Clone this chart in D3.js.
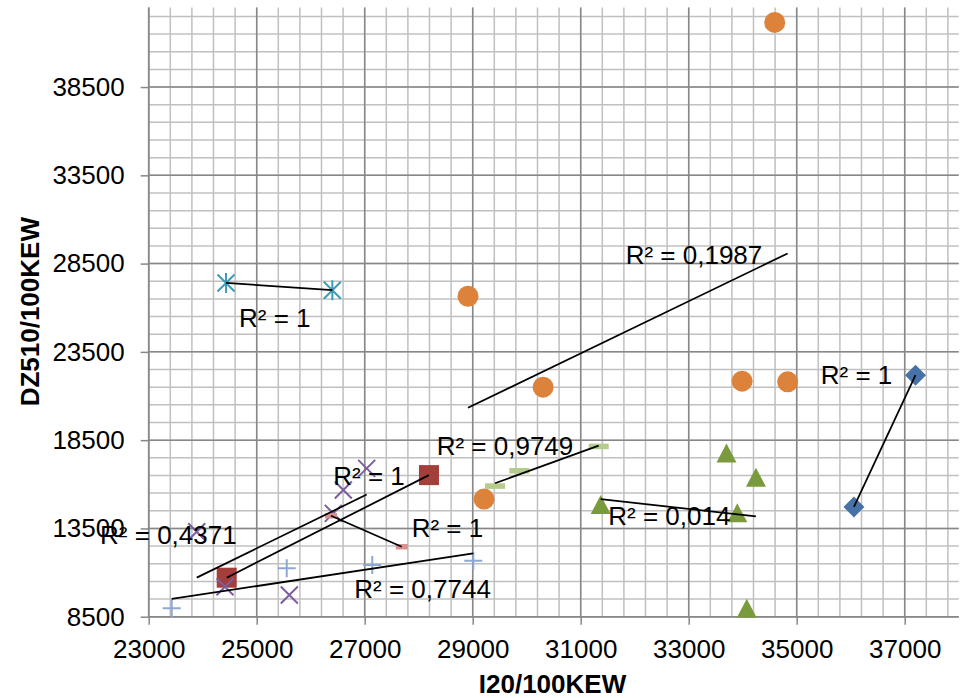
<!DOCTYPE html>
<html>
<head>
<meta charset="utf-8">
<script src="https://cdn.jsdelivr.net/npm/d3@7"></script>
<style>
  html, body { margin: 0; padding: 0; background: #fff; }
  svg { display: block; }
  text { font-family: "Liberation Sans", Arial, sans-serif; }
</style>
</head>
<body>
<div id="chart"></div>
<script>
// ---------------- data ----------------
const diamondX = [36060, 37200];
const diamondY = [14720, 22180];
const squareX = [24445, 28190];
const squareY = [10710, 16520];
const triangleX = [31370, 33700, 34245, 33900, 34075];
const triangleY = [14822, 17749, 16368, 14353, 8950];
const crossX = [23889, 24413, 25604, 26418, 26604, 27037];
const crossY = [13311, 10198, 9728, 14353, 15672, 16900];
const starX = [24432, 26401];
const starY = [27405, 26992];
const circleX = [28913, 29210, 30304, 33989, 34832, 34593];
const circleY = [26652, 15162, 21501, 21841, 21801, 42162];
const plusX = [23426, 25556, 27140, 29011];
const plusY = [8975, 11240, 11426, 11670];
const shortDashX = [26376, 27686];
const shortDashY = [14217, 12462];
const longDashX = [29413, 29863, 31333];
const longDashY = [15898, 16765, 18145];

const r2Labels = ["R² = 1", "R² = 1", "R² = 0,014", "R² = 0,4371", "R² = 1",
                  "R² = 0,1987", "R² = 0,7744", "R² = 1", "R² = 0,9749"];

const xTicks = [23000, 25000, 27000, 29000, 31000, 33000, 35000, 37000];
const yTicks = [8500, 13500, 18500, 23500, 28500, 33500, 38500];
const xTitle = "I20/100KEW";
const yTitle = "DZ510/100KEW";

// ---------------- layout ----------------
const W = 961, H = 698;
const pLeft = 148.7, pTop = 7.6, pRight = 958.7, pBottom = 616.7;
const xDomain = [23000, 38000], yDomain = [8500, 43000];
const xMinor = 400, yMinor = 1000;

// label anchors (data coords of text left baseline)
const labelAt = [[35445, 21654], [26418, 15955], [31510, 13690], [22100, 12598], [24672, 24915],
                 [31833, 28503], [26807, 9541], [27870, 12994], [28333, 17638]];

const series = [
  { xs: diamondX,   ys: diamondY,   marker: "diamond",   color: "#4672a8" },
  { xs: squareX,    ys: squareY,    marker: "square",    color: "#a33e3b" },
  { xs: triangleX,  ys: triangleY,  marker: "triangle",  color: "#7a9a3e" },
  { xs: crossX,     ys: crossY,     marker: "x",         color: "#7b5e9e" },
  { xs: starX,      ys: starY,      marker: "star",      color: "#3e9bb5" },
  { xs: circleX,    ys: circleY,    marker: "circle",    color: "#dc823b" },
  { xs: plusX,      ys: plusY,      marker: "plus",      color: "#8ea8d6" },
  { xs: shortDashX, ys: shortDashY, marker: "shortdash", color: "#d9908f" },
  { xs: longDashX,  ys: longDashY,  marker: "longdash",  color: "#b5cc8e" }
];

const x = d3.scaleLinear().domain(xDomain).range([pLeft, pRight]);
const y = d3.scaleLinear().domain(yDomain).range([pBottom, pTop]);

const svg = d3.select("#chart").append("svg").attr("width", W).attr("height", H);

// ---------------- grid ----------------
const minorXs = d3.range(xDomain[0], xDomain[1] + 1, xMinor).filter(v => v <= xDomain[1]);
const minorYs = d3.range(yDomain[0], yDomain[1] + 1, yMinor).filter(v => v <= yDomain[1]);
const grid = svg.append("g");
grid.selectAll(".mx").data(minorXs).join("line")
  .attr("x1", d => x(d)).attr("x2", d => x(d)).attr("y1", y(yDomain[1])).attr("y2", pBottom)
  .attr("stroke", "#c0c0c0").attr("stroke-width", 1.5);
grid.selectAll(".my").data(minorYs).join("line")
  .attr("x1", pLeft).attr("x2", pRight).attr("y1", d => y(d)).attr("y2", d => y(d))
  .attr("stroke", "#c0c0c0").attr("stroke-width", 1.5);
grid.selectAll(".Mx").data(xTicks).join("line")
  .attr("x1", d => x(d)).attr("x2", d => x(d)).attr("y1", y(yDomain[1])).attr("y2", pBottom)
  .attr("stroke", "#878787").attr("stroke-width", 1.5);
grid.selectAll(".My").data(yTicks).join("line")
  .attr("x1", pLeft).attr("x2", pRight).attr("y1", d => y(d)).attr("y2", d => y(d))
  .attr("stroke", "#878787").attr("stroke-width", 1.5);

// ---------------- axes ----------------
const fmt = d3.format("d");
const xAxis = svg.append("g").attr("transform", `translate(0,${pBottom})`)
  .call(d3.axisBottom(x).tickValues(xTicks).tickFormat(fmt).tickSize(8).tickPadding(15));
const yAxis = svg.append("g").attr("transform", `translate(${pLeft},0)`)
  .call(d3.axisLeft(y).tickValues(yTicks).tickFormat(fmt).tickSize(8).tickPadding(16));
[xAxis, yAxis].forEach(a => {
  a.select(".domain").remove();
  a.selectAll(".tick line").attr("stroke", "#878787").attr("stroke-width", 1.5);
  a.selectAll(".tick text").attr("font-size", 26).attr("fill", "#000")
    .attr("font-family", "'Liberation Sans', Arial, sans-serif");
});
svg.append("line").attr("x1", pLeft).attr("x2", pLeft).attr("y1", y(yDomain[1])).attr("y2", pBottom)
  .attr("stroke", "#878787").attr("stroke-width", 1.5);
svg.append("line").attr("x1", pLeft).attr("x2", pRight).attr("y1", pBottom).attr("y2", pBottom)
  .attr("stroke", "#878787").attr("stroke-width", 1.5);

svg.append("text").attr("x", 552.5).attr("y", 693).attr("text-anchor", "middle")
  .attr("font-size", 26).attr("font-weight", "bold").text(xTitle);
svg.append("text").attr("transform", "translate(39,311.7) rotate(-90)").attr("text-anchor", "middle")
  .attr("font-size", 26).attr("font-weight", "bold").text(yTitle);

// ---------------- markers ----------------
function drawMarker(g, type, cx, cy, color) {
  switch (type) {
    case "diamond":
      g.append("path").attr("d", `M${cx},${cy-10.5}L${cx+10.5},${cy}L${cx},${cy+10.5}L${cx-10.5},${cy}Z`).attr("fill", color);
      break;
    case "square":
      g.append("rect").attr("x", cx-10).attr("y", cy-10).attr("width", 20).attr("height", 20).attr("fill", color);
      break;
    case "triangle":
      g.append("path").attr("d", `M${cx},${cy-10}L${cx+10},${cy+9}L${cx-10},${cy+9}Z`).attr("fill", color);
      break;
    case "circle":
      g.append("circle").attr("cx", cx).attr("cy", cy).attr("r", 10.5).attr("fill", color);
      break;
    case "x":
      g.append("path").attr("d", `M${cx-8.5},${cy-8.5}L${cx+8.5},${cy+8.5}M${cx+8.5},${cy-8.5}L${cx-8.5},${cy+8.5}`)
        .attr("stroke", color).attr("stroke-width", 2).attr("fill", "none");
      break;
    case "star":
      g.append("path").attr("d", `M${cx-8.5},${cy-8.5}L${cx+8.5},${cy+8.5}M${cx+8.5},${cy-8.5}L${cx-8.5},${cy+8.5}M${cx},${cy-10}L${cx},${cy+10}`)
        .attr("stroke", color).attr("stroke-width", 2).attr("fill", "none");
      break;
    case "plus":
      g.append("path").attr("d", `M${cx-9},${cy}L${cx+9},${cy}M${cx},${cy-9}L${cx},${cy+9}`)
        .attr("stroke", color).attr("stroke-width", 2).attr("fill", "none");
      break;
    case "shortdash":
      g.append("rect").attr("x", cx-6).attr("y", cy-2.7).attr("width", 12).attr("height", 5.4).attr("fill", color);
      break;
    case "longdash":
      g.append("rect").attr("x", cx-10).attr("y", cy-2.8).attr("width", 20).attr("height", 5.6).attr("fill", color);
      break;
  }
}

const markG = svg.append("g");
series.forEach(s => {
  s.xs.forEach((xv, i) => drawMarker(markG, s.marker, x(xv), y(s.ys[i]), s.color));
});

// ---------------- linear trendlines ----------------
function fit(xs, ys) {
  const mx = d3.mean(xs), my = d3.mean(ys);
  let sxy = 0, sxx = 0;
  xs.forEach((v, i) => { sxy += (v - mx) * (ys[i] - my); sxx += (v - mx) * (v - mx); });
  const b = sxy / sxx, a = my - b * mx;
  return v => a + b * v;
}
const trendG = svg.append("g");
series.forEach(s => {
  const f = fit(s.xs, s.ys);
  const x0 = d3.min(s.xs), x1 = d3.max(s.xs);
  trendG.append("line")
    .attr("x1", x(x0)).attr("y1", y(f(x0))).attr("x2", x(x1)).attr("y2", y(f(x1)))
    .attr("stroke", "#000").attr("stroke-width", 1.75);
});

// ---------------- R² labels ----------------
svg.append("g").selectAll("text").data(r2Labels).join("text")
  .attr("x", (d, i) => x(labelAt[i][0])).attr("y", (d, i) => y(labelAt[i][1]))
  .attr("font-size", 26).attr("fill", "#000").text(d => d);
</script>
</body>
</html>
